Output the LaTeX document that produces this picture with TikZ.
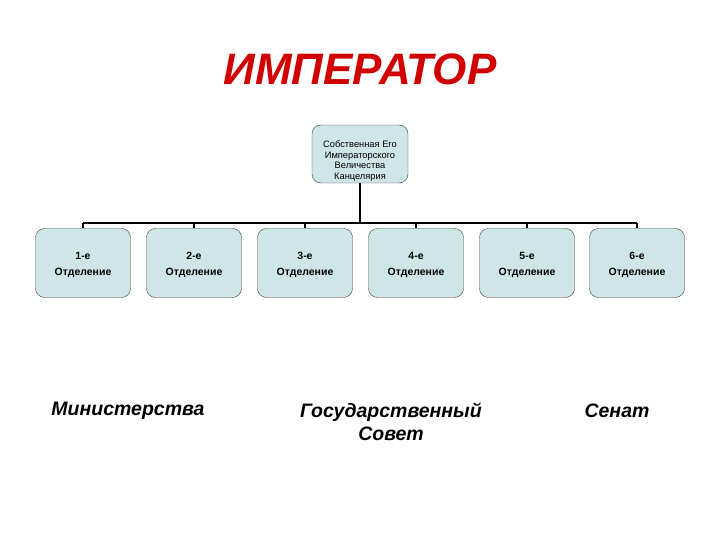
\documentclass[tikz,border=0pt]{standalone}
\usepackage{fontspec}
\setmainfont{Liberation Sans}
\usepackage{tikz}
\usetikzlibrary{positioning, calc}
\usepackage{xcolor}
\definecolor{boxfill}{HTML}{CFE6E8}
\definecolor{titlered}{HTML}{D00000}

\begin{document}
\begin{tikzpicture}[x=1pt, y=-1pt,
  otd/.style={draw=black!75, rounded corners=9pt, fill=boxfill, minimum width=95pt, minimum height=69pt, align=center, font=\fontsize{10.5}{16}\selectfont\bfseries},
  body/.style={font=\fontsize{19.5}{23}\selectfont\bfseries\itshape, align=center},
  link/.style={line width=1.6pt}]
\useasboundingbox (0,0) rectangle (720,540);
\node[text=titlered, font=\fontsize{44}{48}\selectfont\bfseries\itshape] (title) at (360,69) {ИМПЕРАТОР};
\node[draw=black!75, rounded corners=9pt, fill=boxfill, minimum width=96pt, minimum height=58pt, inner sep=0pt, align=center, font=\fontsize{9.3}{10.7}\selectfont] (kanc) at (360,154) {\rule{0pt}{21pt}Собственная Его\\Императорского\\Величества\\Канцелярия};
\node[otd] (d1) at (83,263) {\rule{0pt}{12pt}1-е\\Отделение};
\node[otd] (d2) at (194,263) {\rule{0pt}{12pt}2-е\\Отделение};
\node[otd] (d3) at (305,263) {\rule{0pt}{12pt}3-е\\Отделение};
\node[otd] (d4) at (416,263) {\rule{0pt}{12pt}4-е\\Отделение};
\node[otd] (d5) at (527,263) {\rule{0pt}{12pt}5-е\\Отделение};
\node[otd] (d6) at (637,263) {\rule{0pt}{12pt}6-е\\Отделение};
\coordinate (bus) at (360,223);
\draw[link] (kanc.south) -- (kanc.south |- bus);
\draw[link] (d1.north |- bus) -- (d6.north |- bus);
\foreach \i in {1,...,6}
  \draw[link] (d\i.north |- bus) -- (d\i.north);
\node[body] (min) at (128,411) {Министерства};
\node[body] (gos) at (391,422) {Государственный\\Совет};
\node[body] (sen) at (617,411) {Сенат};
\end{tikzpicture}
\end{document}
